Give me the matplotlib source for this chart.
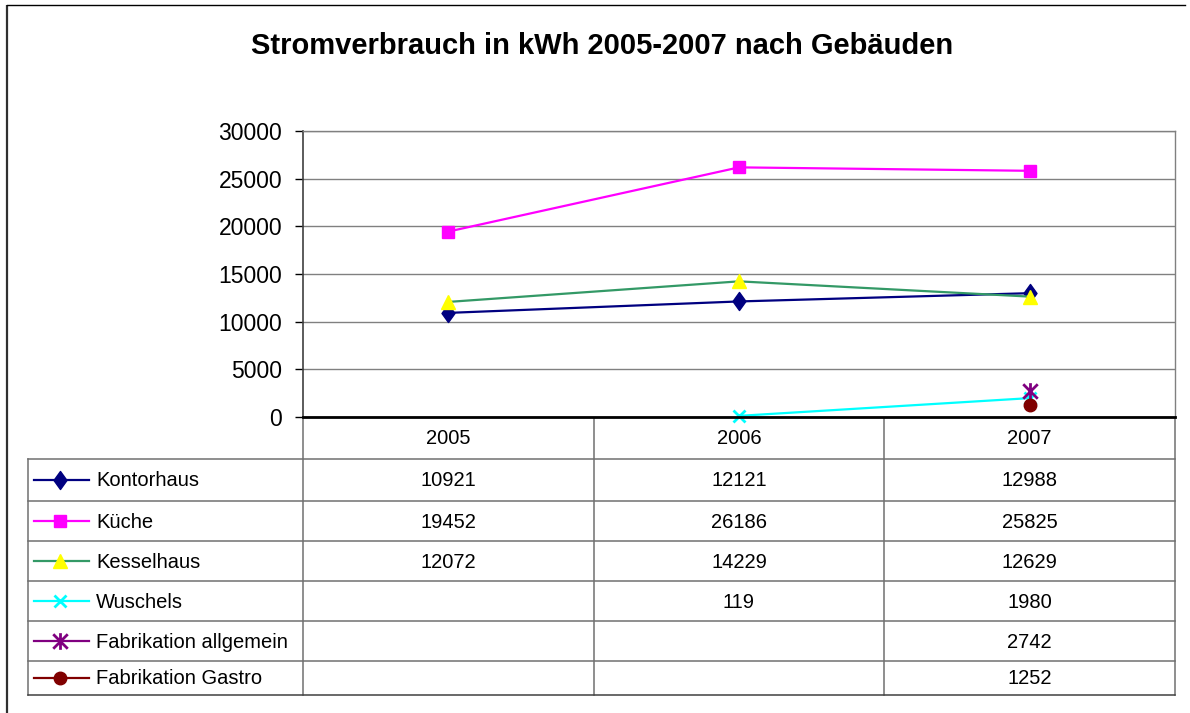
import numpy as np
import matplotlib
matplotlib.use("Agg")
import matplotlib.pyplot as plt
from matplotlib.path import Path

plt.rcParams['font.family'] = ['Liberation Sans', 'DejaVu Sans']

title = "Stromverbrauch in kWh 2005-2007 nach Gebäuden"
years = ["2005", "2006", "2007"]
series_names = ["Kontorhaus", "Küche", "Kesselhaus", "Wuschels",
                "Fabrikation allgemein", "Fabrikation Gastro"]
kontorhaus = [10921, 12121, 12988]
kueche = [19452, 26186, 25825]
kesselhaus = [12072, 14229, 12629]
wuschels = [np.nan, 119, 1980]
fab_allgemein = [np.nan, np.nan, 2742]
fab_gastro = [np.nan, np.nan, 1252]
y_ticks = [0, 5000, 10000, 15000, 20000, 25000, 30000]

series_values = [kontorhaus, kueche, kesselhaus, wuschels, fab_allgemein, fab_gastro]

diamond = Path([(0, 1), (0.72, 0), (0, -1), (-0.72, 0), (0, 1)],
               [Path.MOVETO, Path.LINETO, Path.LINETO, Path.LINETO, Path.CLOSEPOLY])
asterisk = Path([(-1, -1), (1, 1), (-1, 1), (1, -1), (0, -1.15), (0, 1.15)],
                [Path.MOVETO, Path.LINETO, Path.MOVETO, Path.LINETO, Path.MOVETO, Path.LINETO])

styles = [
    dict(color="#000080", marker=diamond, ms=13, mew=1, mfc="#000080", mec="#000080"),
    dict(color="#FF00FF", marker="s", ms=8.5, mew=1, mfc="#FF00FF", mec="#FF00FF"),
    dict(color="#339966", marker="^", ms=10, mew=1, mfc="#FFFF00", mec="#FFFF00"),
    dict(color="#00FFFF", marker="x", ms=8.5, mew=2, mfc="#00FFFF", mec="#00FFFF"),
    dict(color="#800080", marker=asterisk, ms=12, mew=2, mfc="none", mec="#800080"),
    dict(color="#800000", marker="o", ms=9, mew=1, mfc="#800000", mec="#800000"),
]

W, H = 1190, 713
fig = plt.figure(figsize=(W / 100, H / 100), dpi=100)
fig.patch.set_facecolor("white")

# pixel layout
L, R, T, B = 303, 1175, 131, 417
tab_left = 28
row_edges = [459, 501, 541, 581, 621, 661, 695]
col_x = [L + i * (R - L) / 3 for i in range(4)]

# overlay for frame/table in pixel coordinates
ov = fig.add_axes([0, 0, 1, 1], zorder=0)
ov.set_xlim(0, W)
ov.set_ylim(H, 0)
ov.axis("off")
ov.patch.set_visible(False)

# outer frame
ov.plot([7, 7], [5, H + 5], color="#303030", lw=1.6, solid_capstyle="butt")
ov.plot([7, 1185], [5, 5], color="black", lw=1.0)

# title
ov.text(602, 46, title, ha="center", va="center", fontsize=21, fontweight="bold")

# main plot
ax = fig.add_axes([L / W, 1 - B / H, (R - L) / W, (B - T) / H], zorder=2)
x = np.arange(len(years))
for vals, st in zip(series_values, styles):
    ax.plot(x, vals, lw=1.6, clip_on=False, **st)
ax.set_xlim(-0.5, 2.5)
ax.set_ylim(0, 30000)
ax.set_yticks(y_ticks)
ax.set_yticklabels([str(t) for t in y_ticks])
ax.set_xticks([])
ax.tick_params(axis="y", labelsize=16.5, length=6, width=1, pad=9, colors="black")
ax.yaxis.grid(True, color="#808080", lw=1)
ax.set_axisbelow(True)
for s in ["top", "right"]:
    ax.spines[s].set_color("#808080")
    ax.spines[s].set_linewidth(1)
ax.spines["left"].set_color("#404040")
ax.spines["left"].set_linewidth(1.2)
ax.spines["bottom"].set_color("black")
ax.spines["bottom"].set_linewidth(2)
ax.patch.set_facecolor("white")

# table lines
lc = "#707070"
for xc in col_x:
    ov.plot([xc, xc], [B, row_edges[-1]], color=lc, lw=1.1)
ov.plot([tab_left, tab_left], [row_edges[0], row_edges[-1]], color=lc, lw=1.1)
for ye in row_edges:
    ov.plot([tab_left, R], [ye, ye], color=lc if ye != row_edges[-1] else "#404040", lw=1.1)

fs = 14.5
# header years
for i, yr in enumerate(years):
    ov.text((col_x[i] + col_x[i + 1]) / 2, (B + row_edges[0]) / 2 + 1, yr,
            ha="center", va="center", fontsize=fs)

# rows
for r, (name, vals, st) in enumerate(zip(series_names, series_values, styles)):
    yc = (row_edges[r] + row_edges[r + 1]) / 2
    ov.plot([34, 89], [yc, yc], color=st["color"], lw=1.6)
    ov.plot([60], [yc], linestyle="none", marker=st["marker"], ms=st["ms"],
            mfc=st["mfc"], mec=st["mec"], mew=st["mew"])
    ov.text(96, yc + 1, name, ha="left", va="center", fontsize=fs)
    for i, v in enumerate(vals):
        if not np.isnan(v):
            ov.text((col_x[i] + col_x[i + 1]) / 2, yc + 1, f"{int(v)}",
                    ha="center", va="center", fontsize=fs)

fig.savefig("out.png", dpi=100)
